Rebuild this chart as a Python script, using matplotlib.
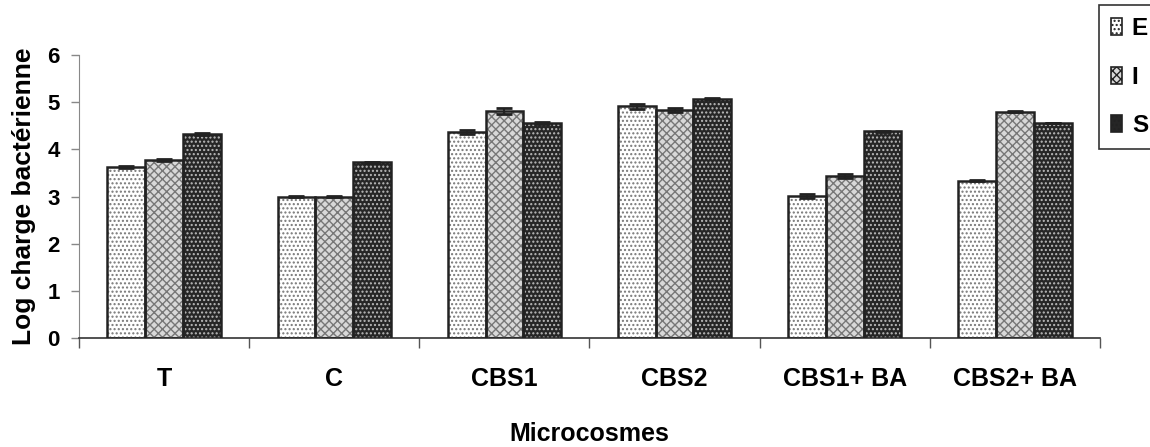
import numpy as np
import matplotlib
matplotlib.use("Agg")
import matplotlib.pyplot as plt
from matplotlib.patches import Patch

plt.rcParams['font.family'] = ['Liberation Sans', 'DejaVu Sans']
plt.rcParams['font.weight'] = 'bold'
plt.rcParams['hatch.linewidth'] = 1.0

categories = ['T', 'C', 'CBS1', 'CBS2', 'CBS1+ BA', 'CBS2+ BA']
series = ['E', 'I', 'S']
E = [3.62, 3.00, 4.37, 4.91, 3.01, 3.34]
I = [3.77, 3.00, 4.81, 4.84, 3.43, 4.80]
S = [4.33, 3.73, 4.56, 5.07, 4.38, 4.56]
E_err = [0.02, 0.01, 0.05, 0.05, 0.05, 0.01]
I_err = [0.02, 0.01, 0.06, 0.04, 0.04, 0.01]
S_err = [0.02, 0.01, 0.03, 0.01, 0.01, 0.01]

styles = {
    'E': dict(face='white', hatch='....', hc='#777777'),
    'I': dict(face='#d8d8d8', hatch='xxxx', hc='#777777'),
    'S': dict(face='#262626', hatch='....', hc='#bbbbbb'),
}

fig = plt.figure(figsize=(11.5, 4.47), dpi=100)
ax = fig.add_axes([0.0687, 0.2438, 0.8878, 0.6330])

x = np.arange(len(categories))
w = 0.222
for k, (name, vals, errs) in enumerate(zip(series, [E, I, S], [E_err, I_err, S_err])):
    st = styles[name]
    pos = x + (k - 1) * w
    ax.bar(pos, vals, w, color=st['face'], linewidth=0, zorder=2)
    ax.bar(pos, vals, w, color='none', hatch=st['hatch'], edgecolor=st['hc'], linewidth=0, zorder=3)
    ax.bar(pos, vals, w, color='none', edgecolor='#222222', linewidth=1.8, zorder=4)
    ax.errorbar(pos, vals, yerr=errs, fmt='none', ecolor='#222222', elinewidth=1.5,
                capsize=6, capthick=2, zorder=5)

ax.set_xlim(-0.5, len(categories) - 0.5)
ax.set_ylim(0, 6)
ax.set_yticks(range(0, 7))
ax.set_xticks(x)
ax.set_xticklabels(categories, fontsize=18, fontweight='bold')
ax.set_xticks(np.arange(-0.5, len(categories)), minor=True)
ax.tick_params(axis='x', which='major', length=0, pad=21)
ax.tick_params(axis='x', which='minor', length=7, width=1, color='#555555', direction='out')
ax.tick_params(axis='y', length=6, width=1, color='#888888', labelsize=16, pad=8)
for lab in ax.get_yticklabels():
    lab.set_fontweight('bold')

ax.spines['top'].set_visible(False)
ax.spines['right'].set_visible(False)
ax.spines['left'].set_color('#888888')
ax.spines['bottom'].set_color('#333333')
ax.spines['bottom'].set_linewidth(1.2)

ax.set_xlabel('Microcosmes', fontsize=18, fontweight='bold', labelpad=22)
ax.set_ylabel('Log charge bactérienne', fontsize=19, fontweight='bold', labelpad=8)

handles = [Patch(facecolor=styles[n]['face'], hatch=styles[n]['hatch'], edgecolor='#222222', linewidth=1.2)
           for n in series]
leg = fig.legend(handles, series, loc='upper left', bbox_to_anchor=(0.9557, 0.9888),
                 frameon=True, fancybox=False, edgecolor='#333333', framealpha=1,
                 prop=dict(size=17.5, weight='bold'), handlelength=0.45, handleheight=0.7,
                 handletextpad=0.4, labelspacing=1.05, borderpad=0.5, borderaxespad=0)
leg.get_frame().set_linewidth(1.2)

fig.savefig('out.png', dpi=100)
